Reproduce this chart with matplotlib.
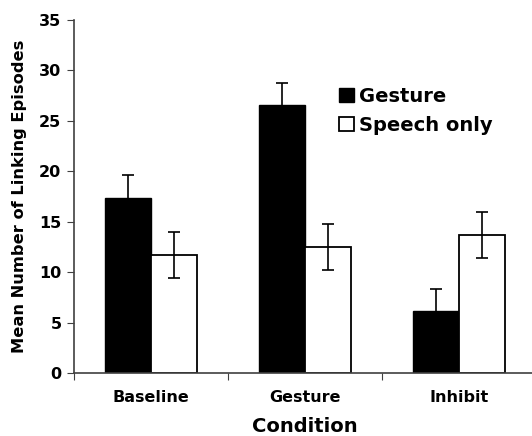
import numpy as np
import matplotlib.pyplot as plt

conditions = ['Baseline', 'Gesture', 'Inhibit']
gesture = [17.4, 26.6, 6.1]
gesture_err = [2.2, 2.2, 2.2]
speech = [11.7, 12.5, 13.7]
speech_err = [2.25, 2.3, 2.3]

plt.rcParams['font.family'] = 'DejaVu Sans'
plt.rcParams['font.weight'] = 'bold'

fig = plt.figure(figsize=(5.32, 4.36), dpi=100)
ax = fig.add_axes([74 / 532, 1 - 373 / 436, 462 / 532, 353 / 436])

x = np.arange(len(conditions))
w = 0.3
ax.bar(x - w / 2, gesture, w, color='black', edgecolor='black', linewidth=1,
       label='Gesture', zorder=2)
ax.bar(x + w / 2, speech, w, color='white', edgecolor='black', linewidth=1.3,
       label='Speech only', zorder=2)
ax.errorbar(x - w / 2, gesture, yerr=gesture_err, fmt='none', ecolor='black',
            elinewidth=1.2, capsize=4.5, capthick=1.2, zorder=3)
ax.errorbar(x + w / 2, speech, yerr=speech_err, fmt='none', ecolor='black',
            elinewidth=1.2, capsize=4.5, capthick=1.2, zorder=3)

ax.set_xlim(-0.5, 2.5)
ax.set_ylim(0, 35)
ax.set_yticks(range(0, 36, 5))
# category boundaries get the tick marks, names sit in between
ax.set_xticks([-0.5, 0.5, 1.5, 2.5])
ax.set_xticklabels([])
ax.set_xticks(x, minor=True)
ax.set_xticklabels(conditions, minor=True, fontsize=11.5, fontweight='bold')
ax.tick_params(axis='x', which='minor', length=0, pad=12)
ax.tick_params(axis='x', which='major', length=5, color='#404040')
ax.tick_params(axis='y', length=5, labelsize=11.5, pad=4, color='#404040')
for lab in ax.get_yticklabels():
    lab.set_fontweight('bold')

for s in ['top', 'right']:
    ax.spines[s].set_visible(False)
for s in ['left', 'bottom']:
    ax.spines[s].set_color('#404040')
    ax.spines[s].set_linewidth(1.2)

ax.set_xlabel('Condition', fontsize=14, fontweight='bold', labelpad=9)
ax.set_ylabel('Mean Number of Linking Episodes', fontsize=11.7,
              fontweight='bold', labelpad=9)

ax.legend(frameon=False, loc='upper left', bbox_to_anchor=(339 / 532, 1 - 87 / 436),
          bbox_transform=fig.transFigure, fontsize=14, handlelength=0.75,
          handleheight=0.75, handletextpad=0.3, labelspacing=0.5,
          borderaxespad=0, borderpad=0)

fig.savefig('out.png', dpi=100)
